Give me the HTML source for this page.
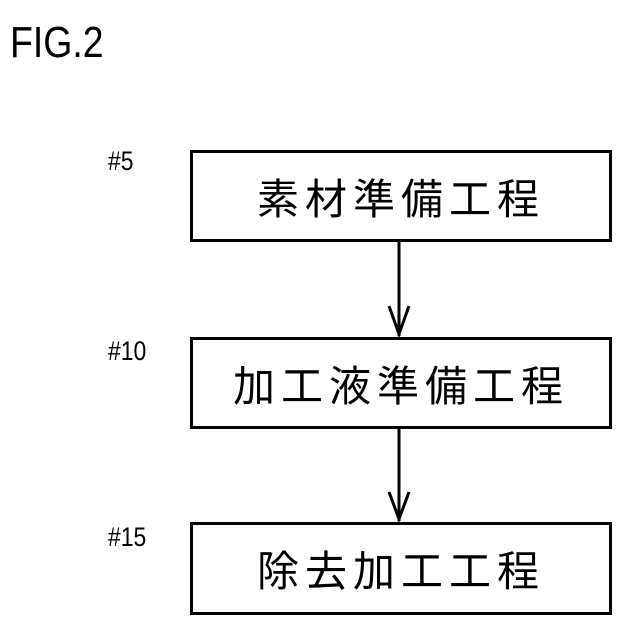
<!DOCTYPE html>
<html><head><meta charset="utf-8"><style>
body{margin:0;background:#fff;}
.c{position:relative;width:640px;height:640px;overflow:hidden;font-family:"Liberation Sans","Noto Sans CJK JP",sans-serif;color:#000;}
.box{position:absolute;left:190px;width:416px;border:3px solid #000;display:flex;align-items:center;justify-content:center;font-family:"Noto Sans CJK JP",sans-serif;font-size:42px;letter-spacing:6px;}
.lab{position:absolute;font-size:27px;transform:scaleX(0.85);transform-origin:left top;}
</style></head><body><div class="c">
<div class="lab" style="left:10px;top:18px;font-size:44px;">FIG.2</div>
<div class="lab" style="left:108px;top:146px;">#5</div>
<div class="lab" style="left:108px;top:336px;">#10</div>
<div class="lab" style="left:108px;top:522px;">#15</div>
<div class="box" style="top:150px;height:86px;">素材準備工程</div>
<div class="box" style="top:337px;height:86px;">加工液準備工程</div>
<div class="box" style="top:522px;height:87px;">除去加工工程</div>
<svg width="640" height="640" style="position:absolute;left:0;top:0">
<g stroke="#000" stroke-width="3" fill="none">
<line x1="399" y1="241" x2="399" y2="336"/>
<polyline points="389,306 399,334 409,306"/>
<line x1="399" y1="428" x2="399" y2="521"/>
<polyline points="389,492 399,519 409,492"/>
</g></svg>
</div></body></html>
